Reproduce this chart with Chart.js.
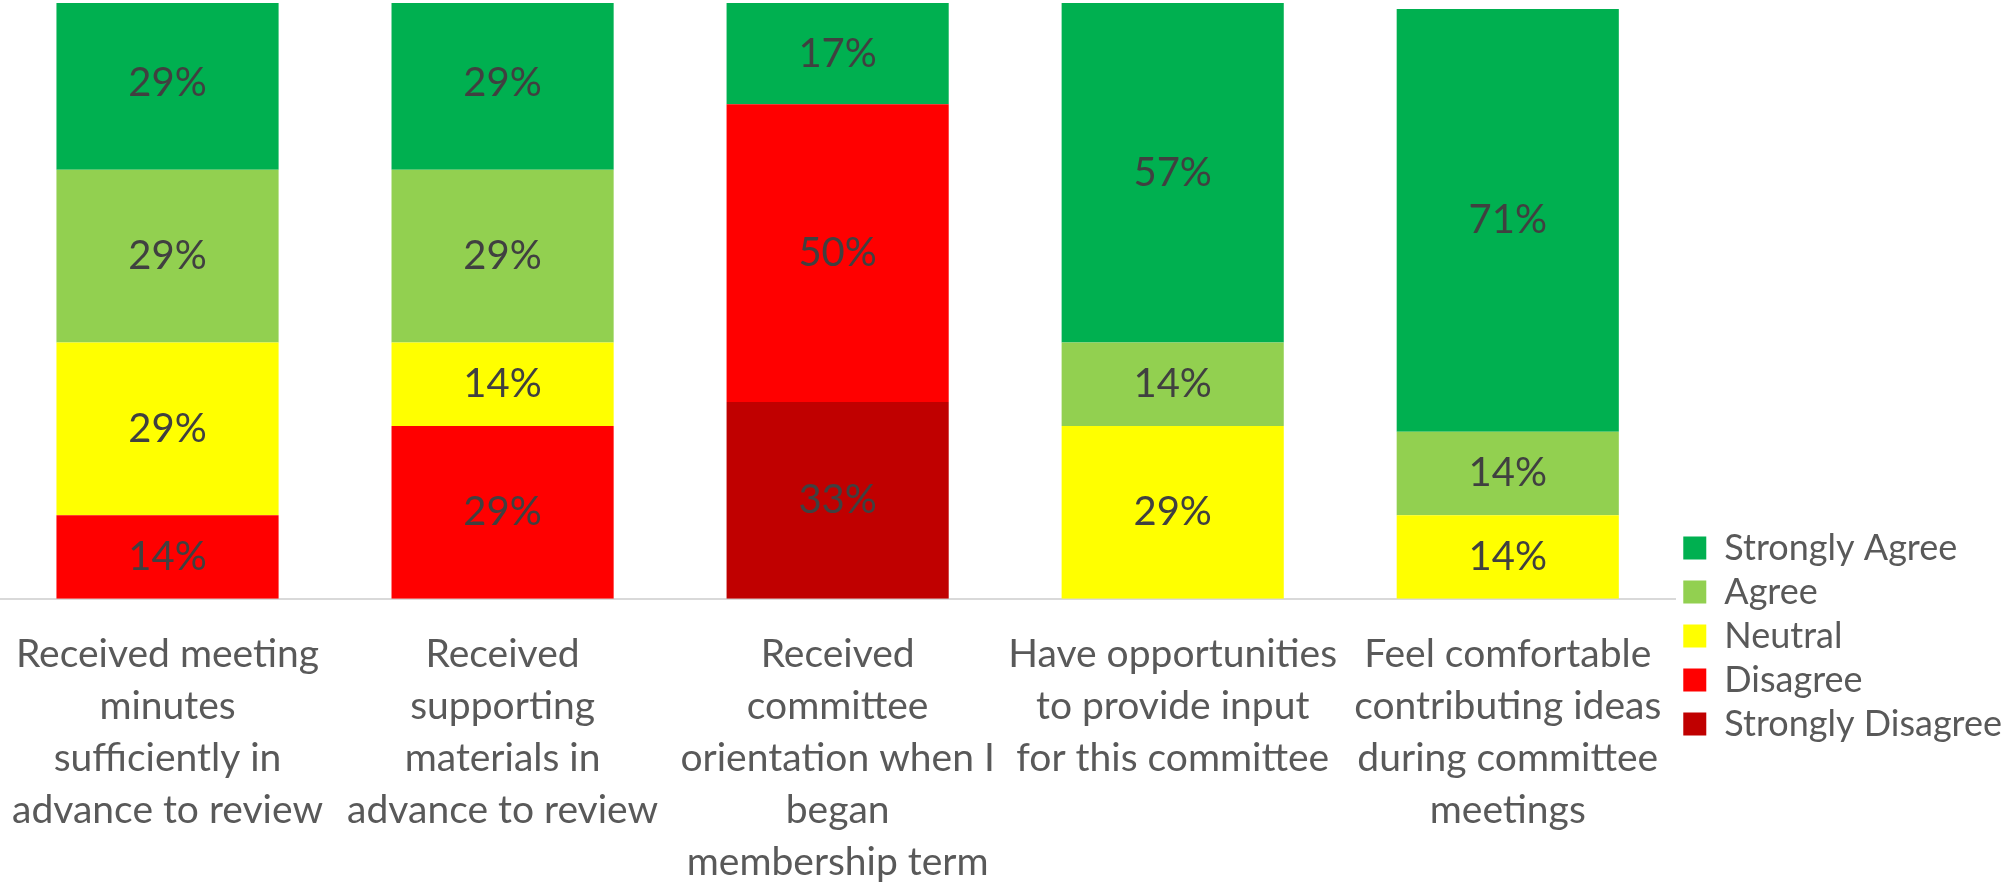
<!DOCTYPE html>
<html>
<head>
<meta charset="utf-8">
<script src="https://cdn.jsdelivr.net/npm/chart.js@4"></script>
<style>
  body { margin: 0; background: #fff; }
  canvas { display: block; }
</style>
</head>
<body>
<canvas id="grafico" width="2012" height="886"></canvas>
<script>
// categorias (eixo x), uma linha por item do array
const categorias = [
    ["Received meeting", "minutes", "sufficiently in", "advance to review"],
    ["Received", "supporting", "materials in", "advance to review"],
    ["Received", "committee", "orientation when I", "began", "membership term"],
    ["Have opportunities", "to provide input", "for this committee"],
    ["Feel comfortable", "contributing ideas", "during committee", "meetings"]
];

const stronglyDisagree = [0, 0, 33, 0, 0];
const disagree         = [14, 29, 50, 0, 0];
const neutral          = [29, 14, 0, 29, 14];
const agree            = [29, 29, 0, 14, 14];
const stronglyAgree    = [29, 29, 17, 57, 71];

Chart.defaults.font.family = "Lato, 'Open Sans', sans-serif";
Chart.defaults.color = '#595959';

// rotulos de porcentagem no meio de cada segmento
const rotulos = {
    id: 'rotulos',
    afterDatasetsDraw(chart) {
        const ctx = chart.ctx;
        ctx.save();
        ctx.font = "40px Lato, 'Open Sans', sans-serif";
        ctx.fillStyle = '#404040';
        ctx.textAlign = 'center';
        ctx.textBaseline = 'middle';
        chart.data.datasets.forEach((ds, i) => {
            chart.getDatasetMeta(i).data.forEach((bar, j) => {
                const v = ds.data[j];
                if (!v) return;
                const p = bar.getCenterPoint();
                ctx.fillText(v + '%', p.x, p.y);
            });
        });
        ctx.restore();
    }
};

// legenda no canto inferior direito
const legendaPos = {
    id: 'legendaPos',
    afterLayout(chart) {
        const lg = chart.legend;
        lg.bottom = 750;
        lg.height = lg.bottom - lg.top;
    }
};

new Chart(document.getElementById('grafico'), {
    type: 'bar',
    data: {
        labels: categorias,
        datasets: [
            { label: 'Strongly Disagree', data: stronglyDisagree, backgroundColor: '#C00000' },
            { label: 'Disagree', data: disagree, backgroundColor: '#FF0000' },
            { label: 'Neutral', data: neutral, backgroundColor: '#FFFF00' },
            { label: 'Agree', data: agree, backgroundColor: '#92D050' },
            { label: 'Strongly Agree', data: stronglyAgree, backgroundColor: '#00B050' }
        ]
    },
    options: {
        responsive: false,
        animation: false,
        layout: { padding: { top: 3, bottom: -32 } },
        datasets: {
            bar: { categoryPercentage: 1, barPercentage: 0.663 }
        },
        scales: {
            x: {
                stacked: true,
                grid: { display: false, drawTicks: false },
                border: { color: '#d9d9d9', width: 2 },
                ticks: {
                    padding: 30,
                    maxRotation: 0,
                    autoSkip: false,
                    color: '#595959',
                    font: { size: 39, lineHeight: 1.33 }
                },
                afterFit(scale) {
                    scale.paddingLeft = 0;
                    scale.paddingRight = 0;
                }
            },
            y: {
                stacked: true,
                display: false,
                min: 0,
                max: 100
            }
        },
        plugins: {
            legend: {
                position: 'right',
                align: 'end',
                reverse: true,
                labels: {
                    boxWidth: 23,
                    boxHeight: 23,
                    padding: 8,
                    color: '#595959',
                    font: { size: 36 }
                }
            },
            tooltip: { enabled: false }
        }
    },
    plugins: [rotulos, legendaPos]
});
</script>
</body>
</html>
